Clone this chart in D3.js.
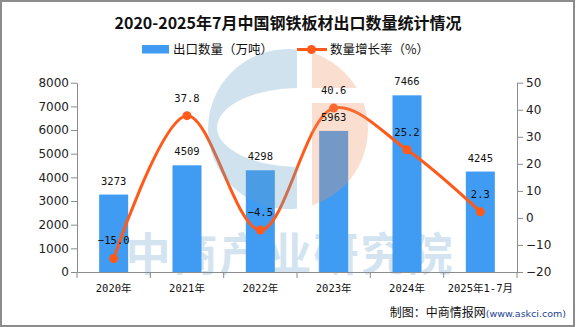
<!DOCTYPE html>
<html>
<head>
    <meta charset="utf-8">
    <style>
        body {
            margin: 0;
            background: #fff;
        }

        svg {
            display: block;
            font-family: "Noto Sans CJK SC", "DejaVu Sans", sans-serif;
        }

        .axis .domain,
        .axis .tick line {
            stroke: #8c8c8c;
        }

        .axis .tick text {
            font-family: "DejaVu Sans", sans-serif;
            font-size: 12px;
            fill: #222;
        }

        .x.axis .tick text {
            font-family: "DejaVu Sans Mono", "Noto Sans CJK SC", monospace;
            font-size: 10.5px;
            fill: #111;
        }

        .val {
            font-family: "DejaVu Sans Mono", monospace;
            font-size: 10.5px;
            fill: #111;
        }
    </style>
</head>

<body>
    <svg width="576" height="327"></svg>

    <script src="https://cdnjs.cloudflare.com/ajax/libs/d3/7.8.5/d3.min.js"></script>
    <script>
        // export volume (10k tonnes) and yoy growth (%)
        let years = ["2020年", "2021年", "2022年", "2023年", "2024年", "2025年1-7月"];
        let exports = [3273, 4509, 4298, 5963, 7466, 4245];
        let growth = [-15.0, 37.8, -4.5, 40.6, 25.2, 2.3];
        let leftTicks = [0, 1000, 2000, 3000, 4000, 5000, 6000, 7000, 8000];
        let rightTicks = [-20, -10, 0, 10, 20, 30, 40, 50];

        let barColor = "#3f9cf2";
        let lineColor = "#ff5a1a";

        let svg = d3.select("svg");
        let margin = { top: 82.7, right: 59, bottom: 55, left: 77 };
        let width = 576, height = 327;

        // frame
        svg.append("rect")
            .attr("x", 1).attr("y", 1)
            .attr("width", width - 3).attr("height", height - 2)
            .style("fill", "none")
            .style("stroke", "#8c8c8c")
            .style("stroke-width", 2)

        let x = d3.scaleBand()
            .domain(years)
            .range([margin.left, width - margin.right])

        let y = d3.scaleLinear()
            .domain([0, 8000])
            .range([height - margin.bottom, margin.top])

        let y2 = d3.scaleLinear()
            .domain([-20, 50])
            .range([height - margin.bottom, margin.top])

        let cx = d => x(d) + x.bandwidth() / 2;

        // title
        svg.append("text")
            .attr("x", 288)
            .attr("y", 29)
            .attr("text-anchor", "middle")
            .style("font-size", "16px")
            .style("font-weight", "bold")
            .style("fill", "#111")
            .text("2020-2025年7月中国钢铁板材出口数量统计情况")

        // legend
        let legend = svg.append("g").style("font-size", "12.5px").style("fill", "#111")
        legend.append("rect")
            .attr("x", 142).attr("y", 45)
            .attr("width", 27).attr("height", 8.5)
            .style("fill", barColor)
        legend.append("text")
            .attr("x", 173).attr("y", 54)
            .text("出口数量（万吨）")
        legend.append("line")
            .attr("x1", 297).attr("x2", 327)
            .attr("y1", 49.5).attr("y2", 49.5)
            .style("stroke", lineColor)
            .style("stroke-width", 3)
        legend.append("circle")
            .attr("cx", 311.5).attr("cy", 49.5).attr("r", 4.5)
            .style("fill", lineColor)
        legend.append("text")
            .attr("x", 330).attr("y", 54)
            .text("数量增长率（%）")

        // background wordmark
        svg.append("text")
            .attr("x", 290)
            .attr("y", 271)
            .attr("text-anchor", "middle")
            .style("font-size", "45px")
            .style("font-weight", "bold")
            .style("letter-spacing", "2px")
            .style("fill", "#d3e4f0")
            .text("中商产业研究院")

        // axes
        svg.append("g")
            .attr("class", "y axis")
            .attr("transform", `translate(${margin.left},0)`)
            .call(d3.axisLeft(y).tickValues(leftTicks).tickSize(6).tickPadding(2).tickSizeOuter(0).tickFormat(d3.format("d")))

        svg.append("g")
            .attr("class", "y2 axis")
            .attr("transform", `translate(${width - margin.right},0)`)
            .call(d3.axisRight(y2).tickValues(rightTicks).tickSize(6).tickPadding(3).tickSizeOuter(0).tickFormat(d => d < 0 ? "−" + Math.abs(d) : d))

        // bars
        svg.append("g")
            .selectAll("rect")
            .data(exports)
            .join("rect")
            .attr("x", (d, i) => cx(years[i]) - 14.5)
            .attr("width", 29)
            .attr("y", d => y(d))
            .attr("height", d => y(0) - y(d))
            .style("fill", barColor)

        let xAxis = svg.append("g")
            .attr("class", "x axis")
            .attr("transform", `translate(0,${height - margin.bottom})`)
            .call(d3.axisBottom(x).tickSize(0).tickPadding(13))
        // ticks sit on band boundaries
        let bounds = years.map(d => x(d)).concat([width - margin.right])
        xAxis.selectAll(".bnd")
            .data(bounds)
            .join("line")
            .attr("x1", d => d).attr("x2", d => d)
            .attr("y1", 0).attr("y2", 6)
            .style("stroke", "#8c8c8c")

        // growth line
        let line = d3.line()
            .x((d, i) => cx(years[i]))
            .y(d => y2(d))
            .curve(d3.curveCatmullRom.alpha(0.5))

        svg.append("path")
            .datum(growth)
            .attr("d", line)
            .style("fill", "none")
            .style("stroke", lineColor)
            .style("stroke-width", 3)

        svg.append("g")
            .selectAll("circle")
            .data(growth)
            .join("circle")
            .attr("cx", (d, i) => cx(years[i]))
            .attr("cy", d => y2(d))
            .attr("r", 4.5)
            .style("fill", lineColor)

        // logo overlay
        let logo = svg.append("g")
        let lc = { x: 288, y: 129, r: 80 }
        let defs = svg.append("defs")
        defs.append("clipPath").attr("id", "leftHalf")
            .append("rect")
            .attr("x", lc.x - lc.r).attr("y", lc.y - lc.r)
            .attr("width", 297 - (lc.x - lc.r)).attr("height", lc.r * 2)
        let rightClip = defs.append("clipPath").attr("id", "rightHalf")
        rightClip.append("rect")
            .attr("x", 312).attr("y", lc.y - lc.r)
            .attr("width", lc.x + lc.r - 312).attr("height", 88 - (lc.y - lc.r))
        rightClip.append("rect")
            .attr("x", 312).attr("y", 103)
            .attr("width", lc.x + lc.r - 312).attr("height", lc.y + lc.r - 103)
        let mask = defs.append("mask").attr("id", "cMask")
        mask.append("rect").attr("width", width).attr("height", height).style("fill", "#fff")
        mask.append("ellipse")
            .attr("cx", 300).attr("cy", 127.5)
            .attr("rx", 83).attr("ry", 39.5)
            .style("fill", "#000")

        logo.append("circle")
            .attr("cx", lc.x).attr("cy", lc.y).attr("r", lc.r)
            .attr("clip-path", "url(#leftHalf)")
            .attr("mask", "url(#cMask)")
            .style("fill", "rgb(100,160,200)")
            .style("opacity", 0.3)
        logo.append("circle")
            .attr("cx", lc.x).attr("cy", lc.y).attr("r", lc.r)
            .attr("clip-path", "url(#rightHalf)")
            .style("fill", "rgb(238,145,98)")
            .style("opacity", 0.3)

        // value labels
        svg.append("g")
            .selectAll("text")
            .data(exports)
            .join("text")
            .attr("class", "val")
            .attr("x", (d, i) => cx(years[i]))
            .attr("y", d => y(d) - 10)
            .attr("text-anchor", "middle")
            .text(d => d)

        svg.append("g")
            .selectAll("text")
            .data(growth)
            .join("text")
            .attr("class", "val")
            .attr("x", (d, i) => cx(years[i]))
            .attr("y", d => y2(d) - 14)
            .attr("text-anchor", "middle")
            .text(d => d3.format(".1f")(d))

        // source note
        let note = svg.append("text")
            .attr("x", 566)
            .attr("y", 317)
            .attr("text-anchor", "end")
        note.append("tspan")
            .style("font-size", "12px")
            .style("fill", "#111")
            .text("制图：中商情报网")
        note.append("tspan")
            .style("font-family", "'DejaVu Sans', sans-serif")
            .style("font-size", "9.5px")
            .style("fill", "#1c3f94")
            .text("(www.askci.com)")
    </script>
</body>
</html>
